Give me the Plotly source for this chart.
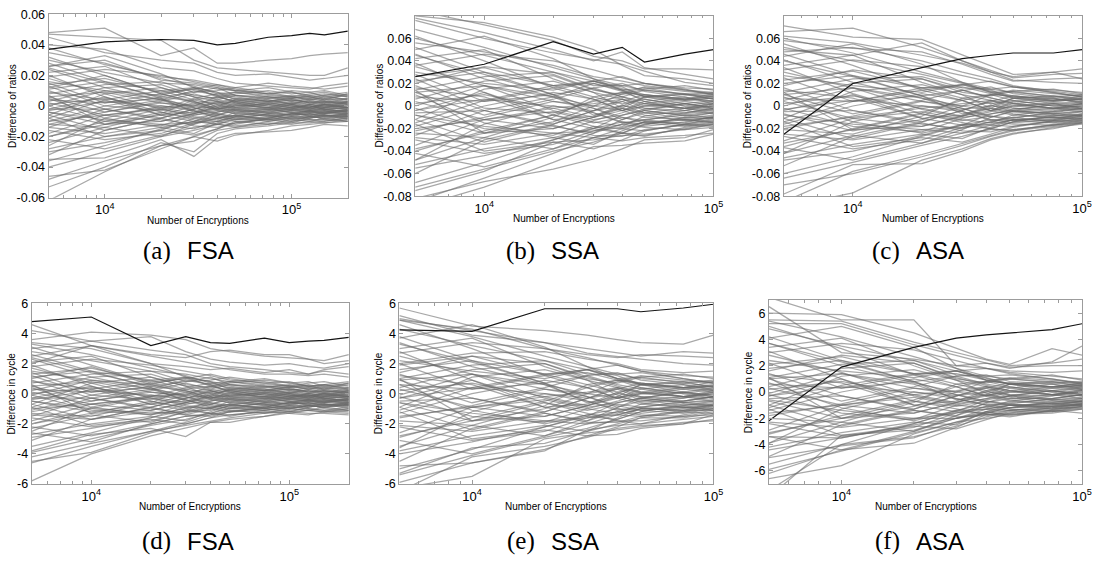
import math
import plotly.graph_objects as go

W, H = 1102, 567

# x grids (Number of Encryptions)
X_FSA = [5000, 10000, 20000, 30000, 40000, 50000, 75000, 100000, 125000, 150000, 200000]
X_SSA = [5000, 10000, 20000, 30000, 40000, 50000, 75000, 100000]

# ---------------- (a) FSA, difference of ratios ----------------
A_BLACK = [.037, .042, .0435, .043, .040, .041, .045, .046, .0475, .0465, .049]
A_GRAY = [
    [.048, .051, .033, .038, .028, .028, .030, .031, .033, .034, .035],
    [.047, .045, .043, .030, .025, .024, .022, .021, .020, .020, .025],
    [.045, .035, .030, .028, .022, .020, .021, .019, .017, .018, .020],
    [.040, .037, .025, .023, .018, .015, .013, .012, .011, .013, .015],
    [-.062, -.043, -.026, -.023, -.016, -.014, -.012, -.010, -.009, -.009, -.007],
    [-.053, -.040, -.024, -.030, -.018, -.015, -.013, -.011, -.011, -.010, -.008],
    [-.035, -.034, -.022, -.033, -.021, -.018, -.017, -.016, -.014, -.012, -.013],
    [-.046, -.042, -.028, -.020, -.023, -.019, -.016, -.013, -.012, -.011, -.010],
    [.030, .022, .015, .014, .011, .010, .012, .009, .007, .008, .006],
    [.012, .020, .008, .002, -.003, -.005, -.002, -.004, -.006, -.005, -.003],
    [-.020, -.010, -.002, .005, .008, .006, .003, .001, .004, .002, .005],
    [.005, -.008, -.014, -.010, -.006, -.009, -.008, -.005, -.003, -.006, -.007],
    [-.008, .004, .010, .012, .006, .003, .005, .007, .006, .004, .002],
    [.018, .008, -.002, -.006, -.004, -.001, .002, 0, -.002, .001, -.001],
    [-.030, -.024, -.016, -.008, -.010, -.006, -.009, -.007, -.008, -.006, -.009],
    [.025, .015, .006, .009, .012, .007, .004, .002, 0, -.002, -.004],
    [0, .010, .004, -.003, -.008, -.006, -.004, -.006, -.005, -.007, -.005],
    [-.014, -.018, -.012, -.015, -.010, -.012, -.008, -.010, -.007, -.005, -.006],
    [.035, .028, .018, .013, .008, .009, .006, .005, .007, .005, .003],
    [-.004, -.012, -.006, 0, .002, -.002, -.005, -.003, -.001, .001, 0],
    [.008, .014, .016, .009, .010, .012, .009, .006, .004, .005, .007],
    [-.024, -.014, -.020, -.012, -.006, -.003, -.001, .002, .001, -.001, -.002],
    [.015, .002, .005, -.004, -.001, .004, .006, .003, .005, .007, .004],
    [-.012, -.004, .002, -.001, -.005, -.008, -.010, -.008, -.009, -.010, -.008],
    [.022, .026, .012, .006, .003, -.001, -.003, -.001, .001, .003, .001],
    [-.002, .006, -.006, -.010, -.012, -.009, -.005, -.006, -.004, -.003, -.004],
    [.010, -.002, -.008, -.002, .003, .001, -.001, -.002, -.003, -.001, .002],
    [-.018, -.006, -.010, -.005, 0, .004, .002, .004, .003, .002, .003],
    [.028, .016, .010, .004, .001, .003, 0, -.002, -.004, -.003, -.006],
    [-.006, -.016, -.008, -.013, -.014, -.011, -.009, -.007, -.005, -.007, -.006],
    [.003, .012, .014, .007, .005, .008, .010, .008, .009, .006, .008],
    [-.028, -.020, -.014, -.018, -.011, -.007, -.006, -.008, -.006, -.004, -.005],
    [.020, .006, -.004, -.008, -.005, -.007, -.003, -.001, -.002, 0, -.001],
    [-.010, 0, .006, .003, -.002, .001, .003, .005, .002, .003, .001],
    [.006, -.004, .003, .008, .004, .002, -.001, .001, -.002, -.004, -.002],
    [-.016, -.022, -.018, -.011, -.008, -.010, -.012, -.009, -.010, -.008, -.010],
    [.014, .018, .009, .011, .007, .005, .003, .004, .002, .004, .005],
    [-.036, -.026, -.015, -.010, -.004, -.002, -.004, -.002, 0, -.002, -.003],
    [.002, -.006, -.002, -.007, -.009, -.004, -.002, 0, -.001, .002, 0],
    [.024, .012, .004, 0, .006, .009, .007, .006, .008, .009, .006],
    [-.022, -.028, -.019, -.014, -.012, -.013, -.011, -.012, -.010, -.011, -.009],
    [.009, .004, -.006, -.004, .001, -.003, -.006, -.004, -.007, -.008, -.007],
    [-.006, .008, .012, .006, -.001, -.004, -.007, -.005, -.003, -.002, -.004],
    [.016, .010, .007, .012, .009, .004, .001, -.001, -.003, -.002, -.001],
    [-.040, -.030, -.020, -.016, -.012, -.008, -.005, -.003, -.004, -.005, -.002],
    [0, -.010, -.013, -.006, -.003, 0, .001, -.001, 0, -.001, .001],
    [-.012, -.014, -.005, .004, .006, .003, 0, .002, .003, .001, -.001],
    [.032, .020, .008, .003, -.002, -.005, -.006, -.009, -.007, -.006, -.008],
    [-.026, -.008, 0, -.003, -.007, -.009, -.007, -.005, -.006, -.009, -.010],
    [.011, .016, .005, -.001, -.006, -.002, .001, .003, .001, 0, .003],
    [-.002, -.002, -.009, -.012, -.008, -.006, -.009, -.011, -.008, -.007, -.005],
    [.007, -.012, -.010, -.005, -.002, .002, .004, .001, -.001, -.003, -.003],
    [-.032, -.016, -.008, -.002, .002, .005, .003, .006, .004, .006, .004],
    [.019, .024, .020, .016, .013, .010, .008, .009, .006, .007, .009],
    [-.008, -.020, -.016, -.019, -.015, -.011, -.008, -.006, -.005, -.004, -.003],
    [.004, .002, .008, .011, .014, .011, .008, .006, .005, .003, .002],
    [-.048, -.036, -.026, -.020, -.015, -.010, -.009, -.007, -.007, -.008, -.006],
    [.013, 0, -.003, .002, .004, .007, .005, .004, .002, .001, -.001],
    [-.020, -.012, -.004, -.009, -.012, -.014, -.010, -.008, -.008, -.006, -.007],
    [.026, .033, .021, .012, .009, .007, .006, .005, .006, .004, .008],
    [-.014, -.002, .004, .010, .007, .002, -.002, -.004, -.003, -.005, -.004],
    [.038, .027, .019, .017, .014, .012, .015, .013, .012, .011, .013],
    [.026, .030, .017, .015, .012, .010, .008, .010, .009, .010, .007],
    [-.004, -.009, -.012, -.011, -.010, -.007, -.008, -.005, -.004, -.004, -.005],
    [.001, .005, -.001, -.005, -.001, -.003, -.004, -.002, .001, 0, -.002],
    [-.010, -.006, -.001, .001, .003, 0, -.001, -.003, -.002, -.001, 0],
    [.006, .009, .002, 0, -.002, 0, .002, 0, -.001, .001, .002],
    [-.003, .003, 0, -.002, 0, -.001, -.002, .001, 0, -.002, -.001],
]

# ---------------- (b) SSA, difference of ratios ----------------
B_BLACK = [.026, .037, .057, .046, .052, .039, .046, .050]
B_GRAY = [
    [.085, .072, .058, .044, .040, .033, .033, .032],
    [.080, .074, .061, .050, .036, .027, .024, .020],
    [.078, .065, .050, .040, .048, .034, .028, .024],
    [-.090, -.072, -.050, -.036, -.035, -.033, -.031, -.025],
    [-.082, -.067, -.056, -.047, -.038, -.030, -.028, -.021],
    [-.085, -.064, -.042, -.028, -.031, -.028, -.026, -.024],
    [.076, .060, .047, .041, .037, .031, .021, .018],
    [-.075, -.058, -.032, -.030, -.026, -.026, -.020, -.016],
    [.060, .045, .030, .022, .015, .010, .006, .004],
    [.020, .035, .028, .015, .008, .002, -.002, 0],
    [-.040, -.022, -.008, .005, .012, .010, .006, .008],
    [.010, -.015, -.028, -.020, -.014, -.016, -.012, -.010],
    [-.015, .005, .018, .022, .014, .008, .010, .012],
    [.035, .018, -.004, -.012, -.008, -.003, .002, -.001],
    [-.055, -.044, -.030, -.018, -.020, -.014, -.016, -.012],
    [.045, .028, .010, .016, .020, .013, .008, .004],
    [0, .018, .008, -.006, -.015, -.012, -.008, -.010],
    [-.028, -.034, -.024, -.028, -.020, -.022, -.016, -.017],
    [.068, .052, .034, .024, .014, .016, .010, .008],
    [-.008, -.024, -.014, 0, .004, -.004, -.009, -.006],
    [.014, .026, .030, .018, .018, .020, .015, .010],
    [-.048, -.028, -.038, -.024, -.012, -.006, -.002, .003],
    [.028, .004, .010, -.008, -.002, .008, .011, .006],
    [-.022, -.010, .004, -.002, -.010, -.015, -.018, -.014],
    [.042, .050, .024, .012, .006, -.002, -.006, -.002],
    [-.004, .012, -.012, -.020, -.024, -.017, -.010, -.011],
    [.018, -.004, -.016, -.004, .006, .002, -.002, -.004],
    [-.035, -.012, -.020, -.010, 0, .008, .005, .007],
    [.052, .030, .018, .008, .002, .006, 0, -.003],
    [-.012, -.032, -.017, -.026, -.027, -.021, -.017, -.013],
    [.006, .022, .027, .014, .010, .015, .018, .014],
    [-.052, -.038, -.028, -.034, -.022, -.014, -.012, -.014],
    [.038, .012, -.008, -.015, -.010, -.013, -.006, -.002],
    [-.018, 0, .012, .006, -.004, .002, .006, .009],
    [.012, -.008, .006, .016, .008, .004, -.002, .002],
    [-.030, -.042, -.034, -.022, -.016, -.019, -.021, -.016],
    [.026, .034, .018, .020, .013, .009, .005, .007],
    [-.068, -.050, -.030, -.020, -.008, -.004, -.008, -.005],
    [.004, -.012, -.005, -.014, -.018, -.009, -.004, 0],
    [.046, .024, .008, 0, .011, .017, .013, .011],
    [-.042, -.054, -.038, -.028, -.024, -.025, -.021, -.019],
    [.016, .008, -.012, -.009, .001, -.006, -.011, -.008],
    [-.012, .015, .022, .012, -.002, -.008, -.013, -.010],
    [.030, .020, .014, .022, .017, .008, .002, -.002],
    [-.072, -.056, -.040, -.032, -.024, -.016, -.010, -.006],
    [-.002, -.020, -.026, -.013, -.006, 0, .002, -.002],
    [-.024, -.028, -.010, .008, .012, .006, 0, .004],
    [.062, .040, .016, .006, -.004, -.010, -.012, -.015],
    [-.048, -.016, 0, -.006, -.014, -.018, -.014, -.010],
    [.022, .030, .010, -.002, -.012, -.004, .002, .005],
    [-.006, -.004, -.018, -.024, -.016, -.012, -.017, -.018],
    [.014, -.024, -.020, -.010, -.004, .004, .008, .002],
    [-.060, -.030, -.016, -.004, .004, .010, .006, .011],
    [.036, .046, .040, .032, .025, .020, .016, .015],
    [-.016, -.040, -.032, -.038, -.030, -.022, -.016, -.011],
    [.008, .004, .016, .022, .026, .020, .014, .010],
    [.024, -.002, -.006, .004, .008, .014, .010, .006],
    [-.038, -.024, -.008, -.018, -.024, -.027, -.019, -.015],
    [.050, .062, .042, .024, .018, .014, .011, .009],
    [-.026, -.004, .008, .020, .014, .004, -.004, -.007],
    [-.008, -.018, -.024, -.022, -.019, -.014, -.015, -.009],
    [.002, .010, -.002, -.010, -.002, -.006, -.007, -.003],
    [-.020, -.012, -.002, .002, .006, 0, -.002, -.006],
    [.012, .018, .004, 0, -.004, 0, .004, .001],
    [-.004, .006, 0, -.004, 0, -.002, -.004, .002],
    [.056, .048, .036, .026, .022, .018, .014, .012],
]

# ---------------- (c) ASA, difference of ratios ----------------
C_BLACK = [-.025, .020, .034, .042, .045, .047, .047, .050]
C_GRAY = [
    [.071, .061, .059, .045, .035, .028, .030, .033],
    [.066, .069, .052, .040, .031, .025, .028, .029],
    [.058, .051, .048, .037, .028, .022, .024, .025],
    [.062, .056, .045, .038, .030, .023, .021, .020],
    [-.090, -.077, -.048, -.038, -.029, -.024, -.020, -.015],
    [-.078, -.052, -.051, -.040, -.030, -.025, -.019, -.016],
    [-.085, -.058, -.043, -.033, -.026, -.021, -.017, -.014],
    [-.070, -.060, -.045, -.035, -.027, -.022, -.018, -.015],
    [.050, .045, .056, .040, .030, .026, .030, .024],
    [.052, .040, .028, .020, .013, .009, .006, .004],
    [.018, .032, .024, .014, .007, .002, -.002, 0],
    [-.036, -.020, -.006, .005, .010, .009, .005, .006],
    [.008, -.014, -.024, -.017, -.012, -.013, -.010, -.008],
    [-.014, .004, .016, .019, .012, .007, .008, .010],
    [.030, .016, -.003, -.010, -.007, -.003, .001, -.001],
    [-.048, -.040, -.026, -.016, -.017, -.012, -.013, -.010],
    [.040, .026, .009, .014, .017, .011, .007, .003],
    [0, .016, .007, -.005, -.013, -.010, -.007, -.008],
    [-.025, -.030, -.021, -.024, -.017, -.018, -.013, -.013],
    [.060, .047, .030, .021, .012, .013, .008, .006],
    [-.007, -.022, -.012, 0, .003, -.004, -.007, -.005],
    [.012, .024, .026, .016, .015, .017, .012, .008],
    [-.042, -.026, -.033, -.021, -.010, -.005, -.002, .002],
    [.025, .004, .009, -.007, -.002, .007, .009, .005],
    [-.020, -.009, .004, -.002, -.009, -.013, -.015, -.011],
    [.036, .045, .021, .010, .005, -.002, -.005, -.002],
    [-.004, .010, -.011, -.017, -.020, -.014, -.008, -.009],
    [.016, -.004, -.014, -.004, .005, .002, -.002, -.003],
    [-.031, -.011, -.018, -.009, 0, .007, .004, .006],
    [.046, .027, .016, .007, .002, .005, 0, -.003],
    [-.011, -.029, -.015, -.022, -.023, -.018, -.014, -.011],
    [.005, .020, .024, .012, .009, .013, .015, .011],
    [-.046, -.034, -.025, -.029, -.019, -.012, -.010, -.011],
    [.034, .011, -.007, -.013, -.009, -.011, -.005, -.002],
    [-.016, 0, .011, .005, -.004, .002, .005, .007],
    [.010, -.007, .005, .014, .007, .003, -.002, .002],
    [-.027, -.038, -.030, -.019, -.014, -.016, -.017, -.013],
    [.023, .031, .016, .017, .011, .008, .004, .006],
    [-.060, -.045, -.027, -.017, -.007, -.004, -.007, -.004],
    [.004, -.011, -.005, -.012, -.015, -.008, -.004, 0],
    [.041, .021, .007, 0, .010, .014, .011, .009],
    [-.037, -.048, -.033, -.024, -.021, -.021, -.017, -.015],
    [.014, .007, -.011, -.008, .001, -.005, -.009, -.007],
    [-.011, .013, .019, .010, -.002, -.007, -.011, -.008],
    [.027, .018, .012, .019, .014, .007, .002, -.002],
    [-.064, -.050, -.035, -.027, -.020, -.014, -.009, -.005],
    [-.002, -.018, -.023, -.011, -.005, 0, .002, -.002],
    [-.021, -.025, -.009, .007, .010, .005, 0, .003],
    [.055, .036, .014, .005, -.004, -.008, -.010, -.012],
    [-.042, -.014, 0, -.005, -.012, -.015, -.012, -.009],
    [.020, .027, .009, -.002, -.010, -.004, .002, .004],
    [-.005, -.004, -.016, -.020, -.014, -.010, -.014, -.014],
    [.012, -.021, -.018, -.009, -.004, .004, .007, .002],
    [-.053, -.027, -.014, -.004, .004, .009, .005, .009],
    [.032, .041, .035, .027, .021, .017, .014, .012],
    [-.014, -.036, -.028, -.032, -.025, -.019, -.013, -.009],
    [.007, .004, .014, .019, .022, .017, .012, .008],
    [-.033, -.021, -.007, -.015, -.020, -.022, -.016, -.012],
    [.044, .055, .037, .021, .015, .012, .009, .007],
    [-.008, -.016, -.021, -.019, -.016, -.012, -.012, -.007],
    [.002, .009, -.002, -.009, -.002, -.005, -.006, -.002],
    [-.018, -.010, -.002, .002, .005, 0, -.002, -.005],
    [.010, .016, .004, 0, -.004, 0, .003, .001],
    [-.003, .005, 0, -.003, 0, -.002, -.003, .001],
    [.048, .052, .040, .030, .024, .018, .013, .010],
]

# ---------------- (d) FSA, difference in cycle ----------------
D_BLACK = [4.8, 5.1, 3.2, 3.8, 3.4, 3.35, 3.7, 3.4, 3.5, 3.55, 3.75]
D_GRAY = [
    [4.6, 3.2, 2.6, 2.4, 2.8, 2.9, 2.6, 2.6, 2.3, 2.2, 2.6],
    [3.6, 4.1, 3.9, 3.6, 3.0, 2.8, 2.5, 2.4, 2.3, 2.0, 2.2],
    [4.2, 3.5, 3.8, 2.8, 2.3, 2.1, 1.9, 2.0, 1.8, 1.7, 2.0],
    [3.0, 3.5, 2.9, 2.6, 2.0, 1.8, 1.6, 1.4, 1.3, 1.6, 1.8],
    [-5.8, -4.0, -2.8, -2.3, -1.9, -1.7, -1.5, -1.2, -1.3, -1.3, -1.4],
    [-4.5, -3.9, -2.6, -2.0, -1.6, -1.4, -1.2, -1.1, -1.0, -1.1, -1.2],
    [-3.8, -2.7, -2.3, -2.85, -1.9, -1.9, -1.5, -1.3, -1.4, -1.2, -1.3],
    [-4.2, -3.3, -2.5, -2.1, -1.8, -1.6, -1.3, -1.2, -1.1, -1.2, -1.1],
    [-2.6, -3.2, -2.0, -1.5, -1.4, -1.2, -1.1, -1.0, -0.8, -0.9, -0.7],
    [2.8, 2.2, 1.5, 1.3, 1.0, 0.8, 1.0, 0.7, 0.5, 0.6, 0.4],
    [1.0, 1.8, 0.6, 0.1, -0.4, -0.6, -0.3, -0.5, -0.7, -0.6, -0.4],
    [-2.0, -1.0, -0.2, 0.4, 0.7, 0.5, 0.2, 0.0, 0.3, 0.1, 0.3],
    [0.4, -0.9, -1.4, -1.0, -0.7, -1.0, -0.9, -0.6, -0.4, -0.7, -0.8],
    [-0.9, 0.3, 0.9, 1.1, 0.5, 0.2, 0.4, 0.6, 0.5, 0.3, 0.1],
    [1.7, 0.7, -0.3, -0.7, -0.5, -0.2, 0.1, -0.1, -0.3, 0.0, -0.2],
    [-2.9, -2.3, -1.6, -0.9, -1.0, -0.7, -1.0, -0.8, -0.9, -0.7, -1.0],
    [2.4, 1.4, 0.5, 0.8, 1.1, 0.6, 0.3, 0.1, -0.1, -0.3, -0.5],
    [-0.1, 0.9, 0.3, -0.4, -0.9, -0.7, -0.5, -0.7, -0.6, -0.8, -0.6],
    [-1.4, -1.7, -1.2, -1.4, -1.0, -1.2, -0.9, -1.0, -0.8, -0.6, -0.7],
    [3.3, 2.6, 1.7, 1.2, 0.7, 0.8, 0.5, 0.4, 0.6, 0.4, 0.2],
    [-0.5, -1.2, -0.7, -0.1, 0.1, -0.3, -0.6, -0.4, -0.2, 0.0, -0.1],
    [0.7, 1.3, 1.5, 0.8, 0.9, 1.1, 0.8, 0.5, 0.3, 0.4, 0.6],
    [-2.3, -1.4, -1.9, -1.2, -0.7, -0.4, -0.2, 0.1, 0.0, -0.2, -0.3],
    [1.4, 0.1, 0.4, -0.5, -0.2, 0.3, 0.5, 0.2, 0.4, 0.6, 0.3],
    [-1.2, -0.5, 0.1, -0.2, -0.6, -0.9, -1.1, -0.9, -1.0, -1.1, -0.9],
    [2.1, 2.5, 1.1, 0.5, 0.2, -0.2, -0.4, -0.2, 0.0, 0.2, 0.0],
    [-0.3, 0.5, -0.7, -1.1, -1.3, -1.0, -0.6, -0.7, -0.5, -0.4, -0.5],
    [0.9, -0.3, -0.9, -0.3, 0.2, 0.0, -0.2, -0.3, -0.4, -0.2, 0.1],
    [-1.8, -0.7, -1.1, -0.6, -0.1, 0.3, 0.1, 0.3, 0.2, 0.1, 0.2],
    [2.6, 1.5, 0.9, 0.3, 0.0, 0.2, -0.1, -0.3, -0.5, -0.4, -0.7],
    [-0.7, -1.7, -0.9, -1.4, -1.5, -1.2, -1.0, -0.8, -0.6, -0.8, -0.7],
    [0.2, 1.1, 1.3, 0.6, 0.4, 0.7, 0.9, 0.7, 0.8, 0.5, 0.7],
    [-2.7, -2.0, -1.5, -1.8, -1.2, -0.8, -0.7, -0.9, -0.7, -0.5, -0.6],
    [1.9, 0.5, -0.5, -0.9, -0.6, -0.8, -0.4, -0.2, -0.3, -0.1, -0.2],
    [-1.1, -0.1, 0.5, 0.2, -0.3, 0.0, 0.2, 0.4, 0.1, 0.2, 0.0],
    [0.5, -0.5, 0.2, 0.7, 0.3, 0.1, -0.2, 0.0, -0.3, -0.5, -0.3],
    [-1.6, -2.2, -1.8, -1.2, -0.9, -1.1, -1.3, -1.0, -1.1, -0.9, -1.1],
    [1.3, 1.7, 0.8, 1.0, 0.6, 0.4, 0.2, 0.3, 0.1, 0.3, 0.4],
    [-3.5, -2.6, -1.6, -1.1, -0.5, -0.3, -0.5, -0.3, -0.1, -0.3, -0.4],
    [0.1, -0.7, -0.3, -0.8, -1.0, -0.5, -0.3, -0.1, -0.2, 0.1, -0.1],
    [2.3, 1.1, 0.3, -0.1, 0.5, 0.8, 0.6, 0.5, 0.7, 0.8, 0.5],
    [-2.2, -2.8, -2.0, -1.5, -1.3, -1.4, -1.2, -1.3, -1.1, -1.2, -1.0],
    [0.8, 0.3, -0.7, -0.5, 0.0, -0.4, -0.7, -0.5, -0.8, -0.9, -0.8],
    [-0.7, 0.7, 1.1, 0.5, -0.2, -0.5, -0.8, -0.6, -0.4, -0.3, -0.5],
    [1.5, 0.9, 0.6, 1.1, 0.8, 0.3, 0.0, -0.2, -0.4, -0.3, -0.2],
    [-3.9, -3.0, -2.1, -1.7, -1.3, -0.9, -0.6, -0.4, -0.5, -0.6, -0.3],
    [-0.1, -1.1, -1.4, -0.7, -0.4, -0.1, 0.0, -0.2, -0.1, -0.2, 0.0],
    [-1.3, -1.5, -0.6, 0.3, 0.5, 0.2, -0.1, 0.1, 0.2, 0.0, -0.2],
    [3.1, 1.9, 0.7, 0.2, -0.3, -0.6, -0.7, -1.0, -0.8, -0.7, -0.9],
    [-2.5, -0.9, -0.1, -0.4, -0.8, -1.0, -0.8, -0.6, -0.7, -1.0, -1.1],
    [1.1, 1.5, 0.4, -0.2, -0.7, -0.3, 0.0, 0.2, 0.0, -0.1, 0.2],
    [-0.3, -0.3, -1.0, -1.3, -0.9, -0.7, -1.0, -1.2, -0.9, -0.8, -0.6],
    [0.6, -1.3, -1.1, -0.6, -0.3, 0.1, 0.3, 0.0, -0.2, -0.4, -0.4],
    [-3.1, -1.7, -0.9, -0.3, 0.1, 0.4, 0.2, 0.5, 0.3, 0.5, 0.3],
    [1.8, 2.3, 1.9, 1.5, 1.2, 0.9, 0.7, 0.8, 0.5, 0.6, 0.8],
    [-0.9, -2.1, -1.7, -2.0, -1.6, -1.2, -0.9, -0.7, -0.6, -0.5, -0.4],
    [0.3, 0.1, 0.7, 1.0, 1.3, 1.0, 0.7, 0.5, 0.4, 0.2, 0.1],
    [-4.6, -3.5, -2.5, -1.9, -1.4, -1.1, -1.0, -0.8, -0.8, -0.9, -0.7],
    [1.2, -0.1, -0.4, 0.1, 0.3, 0.6, 0.4, 0.3, 0.1, 0.0, -0.2],
    [-2.0, -1.3, -0.5, -1.0, -1.3, -1.5, -1.1, -0.9, -0.9, -0.7, -0.8],
    [2.5, 3.2, 2.0, 1.1, 0.8, 0.6, 0.5, 0.4, 0.5, 0.3, 0.7],
    [-1.5, -0.3, 0.3, 0.9, 0.6, 0.1, -0.3, -0.5, -0.4, -0.6, -0.5],
    [2.0, 3.2, 2.5, 2.1, 1.8, 1.6, 1.3, 1.3, 1.2, 1.3, 1.1],
    [3.4, 3.0, 2.0, 1.8, 1.6, 1.7, 1.4, 1.6, 1.3, 1.5, 1.3],
    [-0.5, -1.0, -1.3, -1.2, -1.1, -0.8, -0.9, -0.6, -0.5, -0.5, -0.6],
    [0.0, 0.4, -0.2, -0.6, -0.2, -0.4, -0.5, -0.3, 0.0, -0.1, -0.3],
    [-1.0, -0.7, -0.2, 0.0, 0.2, -0.1, -0.2, -0.4, -0.3, -0.2, -0.1],
    [0.5, 0.8, 0.1, -0.1, -0.3, -0.1, 0.1, -0.1, -0.2, 0.0, 0.1],
    [-0.4, 0.2, -0.1, -0.3, -0.1, -0.2, -0.3, 0.0, -0.1, -0.3, -0.2],
]

# ---------------- (e) SSA, difference in cycle ----------------
E_BLACK = [4.25, 4.15, 5.65, 5.65, 5.65, 5.45, 5.7, 5.95]
E_GRAY = [
    [5.7, 4.5, 4.2, 3.9, 3.6, 3.4, 3.3, 3.9],
    [5.2, 3.9, 3.4, 3.0, 2.7, 2.5, 2.8, 2.7],
    [4.9, 4.3, 3.0, 2.6, 2.4, 2.6, 2.5, 2.4],
    [5.0, 4.2, 3.4, 2.7, 2.5, 2.3, 2.0, 1.9],
    [-6.3, -5.5, -3.0, -2.6, -2.4, -2.2, -1.9, -1.8],
    [-6.5, -4.2, -3.5, -2.9, -2.3, -2.1, -2.0, -1.4],
    [-5.9, -4.6, -3.8, -2.4, -2.1, -2.0, -1.7, -1.5],
    [-5.3, -3.6, -3.3, -2.5, -2.0, -1.6, -1.6, -1.3],
    [-4.8, -4.6, -3.7, -2.8, -2.7, -2.3, -2.0, -1.7],
    [4.3, 3.2, 2.2, 1.6, 1.0, 0.7, 0.4, 0.2],
    [1.4, 2.5, 2.0, 1.1, 0.5, 0.1, -0.2, 0.0],
    [-2.9, -1.6, -0.5, 0.4, 0.9, 0.7, 0.4, 0.5],
    [0.6, -1.1, -2.0, -1.4, -1.0, -1.1, -0.9, -0.8],
    [-1.1, 0.4, 1.3, 1.6, 1.0, 0.6, 0.7, 0.9],
    [2.5, 1.3, -0.3, -0.9, -0.6, -0.3, 0.1, -0.1],
    [-4.0, -3.2, -2.2, -1.4, -1.4, -1.0, -1.1, -0.9],
    [3.3, 2.1, 0.7, 1.2, 1.4, 0.9, 0.6, 0.3],
    [-0.1, 1.3, 0.6, -0.5, -1.1, -0.9, -0.6, -0.8],
    [-2.1, -2.5, -1.8, -2.0, -1.4, -1.5, -1.1, -1.1],
    [4.9, 3.8, 2.5, 1.8, 1.0, 1.1, 0.7, 0.5],
    [-0.6, -1.8, -1.0, 0.0, 0.3, -0.3, -0.6, -0.5],
    [1.0, 1.9, 2.2, 1.3, 1.3, 1.4, 1.0, 0.7],
    [-3.5, -2.1, -2.8, -1.8, -0.9, -0.5, -0.2, 0.2],
    [2.0, 0.3, 0.7, -0.6, -0.2, 0.6, 0.8, 0.4],
    [-1.6, -0.8, 0.3, -0.2, -0.8, -1.1, -1.3, -1.0],
    [3.0, 3.7, 1.8, 0.9, 0.4, -0.2, -0.5, -0.2],
    [-0.3, 0.9, -0.9, -1.5, -1.7, -1.2, -0.7, -0.8],
    [1.3, -0.3, -1.2, -0.3, 0.4, 0.1, -0.2, -0.3],
    [-2.6, -0.9, -1.5, -0.8, 0.0, 0.6, 0.4, 0.5],
    [3.8, 2.2, 1.3, 0.6, 0.1, 0.4, 0.0, -0.3],
    [-0.9, -2.4, -1.3, -1.9, -1.9, -1.5, -1.2, -1.0],
    [0.4, 1.6, 2.0, 1.0, 0.7, 1.1, 1.3, 1.0],
    [-3.8, -2.8, -2.1, -2.5, -1.6, -1.0, -0.9, -1.0],
    [2.8, 0.9, -0.6, -1.1, -0.7, -0.9, -0.5, -0.2],
    [-1.3, 0.0, 0.9, 0.4, -0.3, 0.1, 0.4, 0.6],
    [0.9, -0.6, 0.4, 1.2, 0.6, 0.3, -0.2, 0.1],
    [-2.2, -3.1, -2.5, -1.6, -1.2, -1.4, -1.5, -1.2],
    [1.9, 2.5, 1.3, 1.4, 0.9, 0.6, 0.3, 0.5],
    [-5.0, -3.7, -2.2, -1.5, -0.6, -0.3, -0.6, -0.4],
    [0.3, -0.9, -0.4, -1.0, -1.3, -0.7, -0.3, 0.0],
    [3.4, 1.8, 0.6, 0.0, 0.8, 1.2, 0.9, 0.8],
    [-3.1, -4.0, -2.8, -2.0, -1.8, -1.8, -1.5, -1.4],
    [1.2, 0.6, -0.9, -0.7, 0.1, -0.4, -0.8, -0.6],
    [-0.9, 1.1, 1.6, 0.9, -0.1, -0.6, -0.9, -0.7],
    [2.2, 1.5, 1.0, 1.6, 1.2, 0.6, 0.1, -0.2],
    [-5.4, -4.1, -2.9, -2.3, -1.7, -1.2, -0.8, -0.5],
    [-0.2, -1.5, -1.9, -1.0, -0.5, 0.0, 0.1, -0.2],
    [-1.8, -2.1, -0.8, 0.6, 0.9, 0.4, 0.0, 0.3],
    [4.6, 3.0, 1.2, 0.4, -0.3, -0.7, -0.9, -1.1],
    [-3.6, -1.2, 0.0, -0.5, -1.0, -1.3, -1.0, -0.8],
    [1.6, 2.2, 0.7, -0.2, -0.9, -0.3, 0.1, 0.4],
    [-0.5, -0.3, -1.3, -1.8, -1.2, -0.9, -1.2, -1.3],
    [1.0, -1.8, -1.5, -0.8, -0.3, 0.3, 0.6, 0.2],
    [-4.5, -2.3, -1.2, -0.3, 0.3, 0.7, 0.4, 0.8],
    [2.7, 3.4, 3.0, 2.4, 1.9, 1.5, 1.2, 1.1],
    [-1.2, -3.0, -2.4, -2.8, -2.2, -1.6, -1.2, -0.8],
    [0.6, 0.3, 1.2, 1.6, 1.9, 1.5, 1.0, 0.7],
    [-2.8, -1.8, -0.6, -1.3, -1.8, -2.0, -1.4, -1.1],
    [3.7, 4.6, 3.1, 1.8, 1.3, 1.0, 0.8, 0.7],
    [-0.6, -1.3, -1.8, -1.6, -1.4, -1.0, -1.1, -0.7],
    [0.2, 0.7, -0.2, -0.8, -0.2, -0.5, -0.5, -0.2],
    [-1.5, -0.9, -0.2, 0.1, 0.4, 0.0, -0.2, -0.5],
    [0.9, 1.3, 0.3, 0.0, -0.3, 0.0, 0.3, 0.1],
    [-0.3, 0.4, 0.0, -0.3, 0.0, -0.2, -0.3, 0.1],
    [2.0, 2.7, 2.8, 2.3, 2.0, 1.6, 1.4, 1.5],
]

# ---------------- (f) ASA, difference in cycle ----------------
F_BLACK = [-2.2, 1.9, 3.4, 4.1, 4.35, 4.5, 4.75, 5.2]
F_GRAY = [
    [7.2, 5.5, 5.5, 2.0, 2.2, 1.8, 2.3, 3.5],
    [6.0, 5.9, 4.5, 3.3, 2.5, 2.1, 3.3, 2.8],
    [5.5, 5.4, 3.8, 3.0, 2.4, 2.0, 2.2, 2.5],
    [6.5, 3.0, 2.5, 2.0, 1.8, 1.6, 1.5, 1.6],
    [5.2, 5.2, 3.6, 2.8, 2.2, 1.9, 2.0, 2.0],
    [-8.0, -3.3, -2.9, -2.0, -1.6, -1.4, -1.3, -1.1],
    [-7.5, -4.0, -3.4, -2.6, -1.9, -1.5, -1.4, -1.6],
    [-6.6, -5.6, -3.2, -2.3, -2.0, -1.7, -1.6, -1.3],
    [-6.2, -4.4, -3.9, -2.7, -1.7, -1.6, -1.5, -1.2],
    [-5.0, -4.1, -3.5, -2.4, -1.5, -1.8, -1.4, -1.1],
    [4.8, 3.5, 2.4, 1.6, 1.0, 0.6, 0.4, 0.2],
    [1.6, 2.8, 2.2, 1.1, 0.5, 0.1, -0.2, 0.0],
    [-3.2, -1.8, -0.6, 0.4, 0.8, 0.7, 0.4, 0.4],
    [0.7, -1.2, -2.2, -1.4, -0.9, -1.0, -0.9, -0.7],
    [-1.2, 0.5, 1.4, 1.6, 0.9, 0.6, 0.7, 0.8],
    [2.8, 1.5, -0.3, -0.9, -0.5, -0.3, 0.1, -0.1],
    [-4.4, -3.5, -2.4, -1.4, -1.3, -1.0, -1.1, -0.9],
    [3.7, 2.3, 0.8, 1.2, 1.3, 0.8, 0.6, 0.3],
    [-0.1, 1.4, 0.6, -0.5, -1.0, -0.8, -0.6, -0.7],
    [-2.3, -2.7, -2.0, -2.0, -1.3, -1.4, -1.1, -1.0],
    [5.4, 4.2, 2.7, 1.8, 0.9, 1.0, 0.7, 0.5],
    [-0.7, -2.0, -1.1, 0.0, 0.3, -0.3, -0.6, -0.5],
    [1.1, 2.1, 2.4, 1.3, 1.2, 1.3, 1.0, 0.6],
    [-3.9, -2.3, -3.0, -1.8, -0.8, -0.5, -0.2, 0.2],
    [2.2, 0.3, 0.8, -0.6, -0.2, 0.6, 0.8, 0.4],
    [-1.8, -0.9, 0.3, -0.2, -0.7, -1.0, -1.3, -0.9],
    [3.4, 4.1, 2.0, 0.9, 0.4, -0.2, -0.5, -0.2],
    [-0.3, 1.0, -1.0, -1.5, -1.6, -1.2, -0.7, -0.8],
    [1.4, -0.3, -1.3, -0.3, 0.4, 0.1, -0.2, -0.3],
    [-2.9, -1.0, -1.6, -0.8, 0.0, 0.6, 0.4, 0.5],
    [4.2, 2.4, 1.4, 0.6, 0.1, 0.4, 0.0, -0.3],
    [-1.0, -2.6, -1.4, -1.9, -1.8, -1.4, -1.2, -0.9],
    [0.4, 1.8, 2.2, 1.0, 0.7, 1.0, 1.3, 0.9],
    [-4.2, -3.1, -2.3, -2.5, -1.5, -1.0, -0.9, -0.9],
    [3.1, 1.0, -0.7, -1.1, -0.7, -0.9, -0.5, -0.2],
    [-1.4, 0.0, 1.0, 0.4, -0.3, 0.1, 0.4, 0.6],
    [1.0, -0.7, 0.4, 1.2, 0.6, 0.3, -0.2, 0.1],
    [-2.4, -3.4, -2.7, -1.6, -1.1, -1.3, -1.5, -1.1],
    [2.1, 2.7, 1.4, 1.4, 0.9, 0.6, 0.3, 0.5],
    [-5.5, -4.0, -2.4, -1.5, -0.6, -0.3, -0.6, -0.4],
    [0.3, -1.0, -0.4, -1.0, -1.2, -0.7, -0.3, 0.0],
    [3.7, 2.0, 0.7, 0.0, 0.8, 1.1, 0.9, 0.7],
    [-3.4, -4.4, -3.0, -2.0, -1.7, -1.7, -1.5, -1.3],
    [1.3, 0.7, -1.0, -0.7, 0.1, -0.4, -0.8, -0.6],
    [-1.0, 1.2, 1.7, 0.9, -0.1, -0.6, -0.9, -0.7],
    [2.4, 1.6, 1.1, 1.6, 1.1, 0.6, 0.1, -0.2],
    [-5.9, -4.5, -3.1, -2.3, -1.6, -1.2, -0.8, -0.5],
    [-0.2, -1.6, -2.1, -1.0, -0.5, 0.0, 0.1, -0.2],
    [-2.0, -2.3, -0.8, 0.6, 0.8, 0.4, 0.0, 0.3],
    [5.0, 3.3, 1.3, 0.4, -0.3, -0.7, -0.9, -1.0],
    [-3.9, -1.3, 0.0, -0.5, -1.0, -1.2, -1.0, -0.7],
    [1.8, 2.4, 0.8, -0.2, -0.8, -0.3, 0.1, 0.4],
    [-0.5, -0.3, -1.4, -1.8, -1.1, -0.9, -1.2, -1.2],
    [1.1, -2.0, -1.6, -0.8, -0.3, 0.3, 0.6, 0.2],
    [-4.9, -2.5, -1.3, -0.3, 0.3, 0.7, 0.4, 0.7],
    [3.0, 3.7, 3.2, 2.4, 1.8, 1.5, 1.2, 1.0],
    [-1.3, -3.3, -2.6, -2.8, -2.1, -1.6, -1.2, -0.8],
    [0.6, 0.3, 1.3, 1.6, 1.8, 1.4, 1.0, 0.7],
    [-3.1, -2.0, -0.7, -1.3, -1.7, -1.9, -1.4, -1.0],
    [4.1, 5.0, 3.4, 1.8, 1.2, 1.0, 0.8, 0.6],
    [-0.6, -1.4, -2.0, -1.6, -1.3, -1.0, -1.1, -0.7],
    [0.2, 0.8, -0.2, -0.8, -0.2, -0.5, -0.5, -0.2],
    [-1.6, -1.0, -0.2, 0.1, 0.4, 0.0, -0.2, -0.5],
    [1.0, 1.4, 0.3, 0.0, -0.3, 0.0, 0.3, 0.1],
    [-0.3, 0.4, 0.0, -0.3, 0.0, -0.2, -0.3, 0.1],
    [-3.4, -3.5, -2.5, -2.0, -1.5, -1.2, -1.1, -1.0],
]

# tick values / labels
RATIO_TICKS_A = [-0.06, -0.04, -0.02, 0, 0.02, 0.04, 0.06]
RATIO_LABELS_A = ["-0.06", "-0.04", "-0.02", "0", "0.02", "0.04", "0.06"]
RATIO_TICKS_B = [-0.08, -0.06, -0.04, -0.02, 0, 0.02, 0.04, 0.06]
RATIO_LABELS_B = ["-0.08", "-0.06", "-0.04", "-0.02", "0", "0.02", "0.04", "0.06"]
CYCLE_TICKS = [-6, -4, -2, 0, 2, 4, 6]
CYCLE_LABELS = ["-6", "-4", "-2", "0", "2", "4", "6"]
X_MAJOR = [1e4, 1e5]
X_MAJOR_LABELS = ["10<sup>4</sup>", "10<sup>5</sup>"]
X_MINOR = [6000, 7000, 8000, 9000, 20000, 30000, 40000, 50000, 60000, 70000, 80000, 90000, 200000]

panels = [
    dict(x=X_FSA, gray=A_GRAY, black=A_BLACK, box=(49, 351, 7.5, 195.5), xr=(5000, 200000),
         yr=(-0.06, 0.06), yt=RATIO_TICKS_A, yl=RATIO_LABELS_A, ytitle="Difference of ratios",
         ytx=13, cap=("(a)", "FSA"), capx=185, capy=250),
    dict(x=X_SSA, gray=B_GRAY, black=B_BLACK, box=(419, 720, 9, 194), xr=(5000, 100000),
         yr=(-0.08, 0.08), yt=RATIO_TICKS_B, yl=RATIO_LABELS_B, ytitle="Difference of ratios",
         ytx=383, cap=("(b)", "SSA"), capx=552, capy=250),
    dict(x=X_SSA, gray=C_GRAY, black=C_BLACK, box=(791, 1092, 9, 194), xr=(5000, 100000),
         yr=(-0.08, 0.08), yt=RATIO_TICKS_B, yl=RATIO_LABELS_B, ytitle="Difference of ratios",
         ytx=755, cap=("(c)", "ASA"), capx=920, capy=250),
    dict(x=X_FSA, gray=D_GRAY, black=D_BLACK, box=(32, 352, 304, 489), xr=(5000, 200000),
         yr=(-6, 6), yt=CYCLE_TICKS, yl=CYCLE_LABELS, ytitle="Difference in cycle",
         ytx=12, cap=("(d)", "FSA"), capx=185, capy=548),
    dict(x=X_SSA, gray=E_GRAY, black=E_BLACK, box=(403, 720, 304, 489), xr=(5000, 100000),
         yr=(-6, 6), yt=CYCLE_TICKS, yl=CYCLE_LABELS, ytitle="Difference in cycle",
         ytx=382, cap=("(e)", "SSA"), capx=552, capy=548),
    dict(x=X_SSA, gray=F_GRAY, black=F_BLACK, box=(776, 1092, 300.5, 489), xr=(5000, 100000),
         yr=(-7, 7), yt=CYCLE_TICKS, yl=CYCLE_LABELS, ytitle="Difference in cycle",
         ytx=755, cap=("(f)", "ASA"), capx=920, capy=548),
]

SANS = "Liberation Sans, Arial, Helvetica, sans-serif"
SERIF = "Liberation Serif, DejaVu Serif, serif"
FRAME = "#9c9c9c"
GRAY_LINE = "rgba(105,105,105,0.58)"
BLACK_LINE = "#141414"

fig = go.Figure()
layout = dict(width=W, height=H, margin=dict(l=0, r=0, t=0, b=0),
              paper_bgcolor="white", plot_bgcolor="white", showlegend=False,
              annotations=[])

for i, p in enumerate(panels, start=1):
    xa = "x" if i == 1 else f"x{i}"
    ya = "y" if i == 1 else f"y{i}"
    xs, ys = [], []
    for line in p["gray"]:
        xs += p["x"] + [None]
        ys += line + [None]
    fig.add_trace(go.Scatter(x=xs, y=ys, mode="lines", xaxis=xa, yaxis=ya,
                             line=dict(color=GRAY_LINE, width=1.25), hoverinfo="skip"))
    fig.add_trace(go.Scatter(x=p["x"], y=p["black"], mode="lines", xaxis=xa, yaxis=ya,
                             line=dict(color=BLACK_LINE, width=1.2), hoverinfo="skip"))
    L, R, T, B = p["box"]
    xkey = "xaxis" if i == 1 else f"xaxis{i}"
    ykey = "yaxis" if i == 1 else f"yaxis{i}"
    layout[xkey] = dict(
        type="log", range=[math.log10(p["xr"][0]), math.log10(p["xr"][1])],
        domain=[L / W, R / W], anchor=ya, showgrid=False, zeroline=False,
        showline=True, linecolor=FRAME, linewidth=1, mirror="ticks",
        ticks="inside", ticklen=4, tickcolor=FRAME, tickwidth=1,
        tickmode="array", tickvals=X_MAJOR, ticktext=X_MAJOR_LABELS,
        tickfont=dict(family=SANS, size=13, color="black"),
        minor=dict(tickmode="array", tickvals=X_MINOR, ticks="inside", ticklen=2.5,
                   tickcolor=FRAME, tickwidth=1, showgrid=False),
    )
    layout[ykey] = dict(
        range=list(p["yr"]), domain=[1 - B / H, 1 - T / H], anchor=xa,
        showgrid=False, zeroline=False, showline=True, linecolor=FRAME, linewidth=1,
        mirror="ticks", ticks="inside", ticklen=4, tickcolor=FRAME, tickwidth=1,
        tickmode="array", tickvals=p["yt"], ticktext=p["yl"],
        tickfont=dict(family=SANS, size=12.5, color="black"),
    )
    layout["annotations"].append(dict(
        text=p["ytitle"], x=p["ytx"] / W, y=1 - (T + B) / 2 / H, xref="paper", yref="paper",
        textangle=-90, showarrow=False, xanchor="center", yanchor="middle",
        font=dict(family=SANS, size=10, color="black")))
    layout["annotations"].append(dict(
        text="Number of Encryptions", x=(L + R) / 2 / W, y=1 - (B + 23) / H,
        xref="paper", yref="paper", showarrow=False, xanchor="center", yanchor="middle",
        font=dict(family=SANS, size=10, color="black")))
    layout["annotations"].append(dict(
        text=p["cap"][0], x=(p["capx"] - 10) / W, y=1 - p["capy"] / H, xref="paper", yref="paper",
        showarrow=False, xanchor="right", yanchor="middle",
        font=dict(family=SERIF, size=25, color="black")))
    layout["annotations"].append(dict(
        text=p["cap"][1], x=(p["capx"] + 2) / W, y=1 - p["capy"] / H, xref="paper", yref="paper",
        showarrow=False, xanchor="left", yanchor="middle",
        font=dict(family=SANS, size=24, color="black")))

fig.update_layout(**layout)
fig.write_html("out.html")
